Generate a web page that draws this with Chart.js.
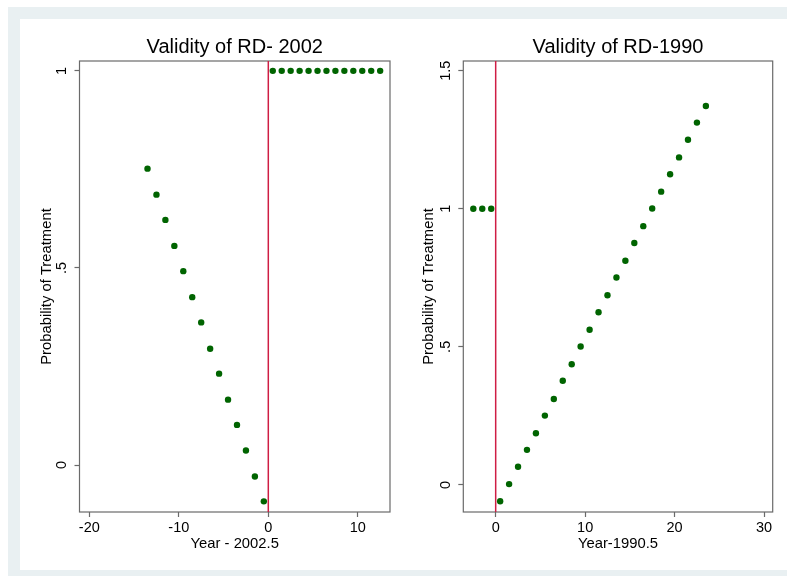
<!DOCTYPE html>
<html><head><meta charset="utf-8">
<script src="https://cdn.jsdelivr.net/npm/chart.js@4"></script>
<style>
html,body{margin:0;padding:0;background:#fff;width:787px;height:576px;overflow:hidden}
#frame{position:absolute;left:8px;top:7px;width:779px;height:569px;background:#e9f0f2}
#inner{position:absolute;left:20px;top:19px;width:767px;height:551px;background:#fff}
canvas{position:absolute;top:19px}
#c1{left:20px}
#c2{left:400px}
</style></head><body>
<div id="frame"></div><div id="inner"></div>
<canvas id="c1" width="380" height="551"></canvas>
<canvas id="c2" width="387" height="551"></canvas>
<script>
// ---- Data: left panel (RD 2002) ----
const titleLeft = 'Validity of RD- 2002';
const xTitleLeft = 'Year - 2002.5';
const leftBeforeX = [-13.5,-12.5,-11.5,-10.5,-9.5,-8.5,-7.5,-6.5,-5.5,-4.5,-3.5,-2.5,-1.5,-0.5];
const leftBeforeY = [0.752,0.686,0.622,0.556,0.492,0.426,0.362,0.295,0.232,0.166,0.102,0.037,-0.029,-0.092];
const leftAfterX  = [0.5,1.5,2.5,3.5,4.5,5.5,6.5,7.5,8.5,9.5,10.5,11.5,12.5];
const leftAfterY  = [1,1,1,1,1,1,1,1,1,1,1,1,1];
const leftXTicks = [-20,-10,0,10];
const leftXTickLabels = ['-20','-10','0','10'];
const leftYTicks = [0,0.5,1];
const leftYTickLabels = ['0','.5','1'];

// ---- Data: right panel (RD 1990) ----
const titleRight = 'Validity of RD-1990';
const xTitleRight = 'Year-1990.5';
const rightBeforeX = [-2.5,-1.5,-0.5];
const rightBeforeY = [1,1,1];
const rightAfterX  = [0.5,1.5,2.5,3.5,4.5,5.5,6.5,7.5,8.5,9.5,10.5,11.5,12.5,13.5,14.5,15.5,16.5,17.5,18.5,19.5,20.5,21.5,22.5,23.5];
const rightAfterY  = [-0.059,0.003,0.066,0.127,0.187,0.251,0.311,0.377,0.437,0.501,0.562,0.625,0.687,0.751,0.812,0.876,0.937,1.001,1.062,1.125,1.186,1.250,1.312,1.372];
const rightXTicks = [0,10,20,30];
const rightXTickLabels = ['0','10','20','30'];
const rightYTicks = [0,0.5,1,1.5];
const rightYTickLabels = ['0','.5','1','1.5'];

const yTitle = 'Probability of Treatment';
const cutoff = 0;

const FONT = '"Liberation Sans", Arial, Helvetica, sans-serif';
const GREEN = '#006400';
const RED = '#cf1d44';
const AXIS = '#6a6a6a';

const panelPlugin = {
  id: 'panel',
  beforeDatasetsDraw(chart, args, opts) {
    const {ctx, chartArea: a} = chart;
    ctx.save();
    ctx.strokeStyle = AXIS;
    ctx.lineWidth = 1.2;
    ctx.strokeRect(a.left, a.top, a.right - a.left, a.bottom - a.top);
    ctx.restore();
  },
  afterDraw(chart, args, opts) {
    const {ctx, chartArea: a} = chart;
    const ys = chart.scales.y;
    ctx.save();
    ctx.fillStyle = '#000';
    ctx.font = '20px ' + FONT;
    ctx.textAlign = 'center';
    ctx.textBaseline = 'middle';
    ctx.fillText(opts.title, (a.left + a.right) / 2, opts.titleY);
    ctx.font = '14.5px ' + FONT;
    ys.ticks.forEach(t => {
      const py = ys.getPixelForValue(t.value);
      ctx.save();
      ctx.translate(a.left - opts.yLabelOffset, py);
      ctx.rotate(-Math.PI / 2);
      ctx.fillText(t.label, 0, 0);
      ctx.restore();
    });
    ctx.restore();
  }
};

function makeChart(id, p) {
  return new Chart(document.getElementById(id), {
    data: {
      datasets: [
        {type: 'scatter', order: 0,
         data: p.bx.map((x, i) => ({x, y: p.by[i]})),
         pointRadius: 3.2, pointBorderWidth: 0, pointBackgroundColor: GREEN},
        {type: 'scatter', order: 0,
         data: p.ax.map((x, i) => ({x, y: p.ay[i]})),
         pointRadius: 3.2, pointBorderWidth: 0, pointBackgroundColor: GREEN},
        {type: 'line', order: 1,
         data: [{x: cutoff, y: p.ymin}, {x: cutoff, y: p.ymax}],
         borderColor: RED, borderWidth: 1.5, pointRadius: 0, fill: false}
      ]
    },
    options: {
      responsive: false, animation: false, events: [],
      layout: {padding: {top: 42, right: p.padRight, bottom: 0, left: 0}},
      plugins: {
        legend: {display: false}, tooltip: {enabled: false}, title: {display: false},
        panel: {title: p.title, titleY: 28, yLabelOffset: 17.5}
      },
      scales: {
        x: {
          type: 'linear', min: p.xmin, max: p.xmax,
          afterBuildTicks: s => { s.ticks = p.xticks.map(v => ({value: v})); },
          afterFit: s => { s.height = 58; },
          ticks: {callback: (v, i) => p.xlabels[i], color: '#000', padding: 2,
                  font: {family: FONT, size: 14.5}, maxRotation: 0, autoSkip: false},
          grid: {display: true, drawOnChartArea: false, drawTicks: true, tickLength: 5,
                 color: AXIS, tickColor: AXIS, tickWidth: 1.2},
          border: {display: false},
          title: {display: true, text: p.xtitle, color: '#000',
                  font: {family: FONT, size: 14.8}, padding: {top: 0, bottom: 17.1}}
        },
        y: {
          type: 'linear', min: p.ymin, max: p.ymax,
          afterBuildTicks: s => { s.ticks = p.yticks.map(v => ({value: v})); },
          afterFit: s => { s.width = p.yWidth; },
          ticks: {display: false, callback: (v, i) => p.ylabels[i]},
          grid: {display: true, drawOnChartArea: false, drawTicks: true, tickLength: 5,
                 color: AXIS, tickColor: AXIS, tickWidth: 1.2},
          border: {display: false},
          title: {display: true, text: yTitle, color: '#000',
                  font: {family: FONT, size: 14.8}, padding: {top: p.yTitlePad, bottom: 0}}
        }
      }
    },
    plugins: [panelPlugin]
  });
}

makeChart('c1', {
  title: titleLeft, xtitle: xTitleLeft,
  bx: leftBeforeX, by: leftBeforeY, ax: leftAfterX, ay: leftAfterY,
  xmin: -21.1, xmax: 13.6, ymin: -0.119, ymax: 1.025,
  xticks: leftXTicks, xlabels: leftXTickLabels, yticks: leftYTicks, ylabels: leftYTickLabels,
  yWidth: 59.5, yTitlePad: 17.6, padRight: 10
});
makeChart('c2', {
  title: titleRight, xtitle: xTitleRight,
  bx: rightBeforeX, by: rightBeforeY, ax: rightAfterX, ay: rightAfterY,
  xmin: -3.62, xmax: 30.97, ymin: -0.098, ymax: 1.535,
  xticks: rightXTicks, xlabels: rightXTickLabels, yticks: rightYTicks, ylabels: rightYTickLabels,
  yWidth: 63.3, yTitlePad: 20.1, padRight: 14.3
});
</script>
</body></html>
